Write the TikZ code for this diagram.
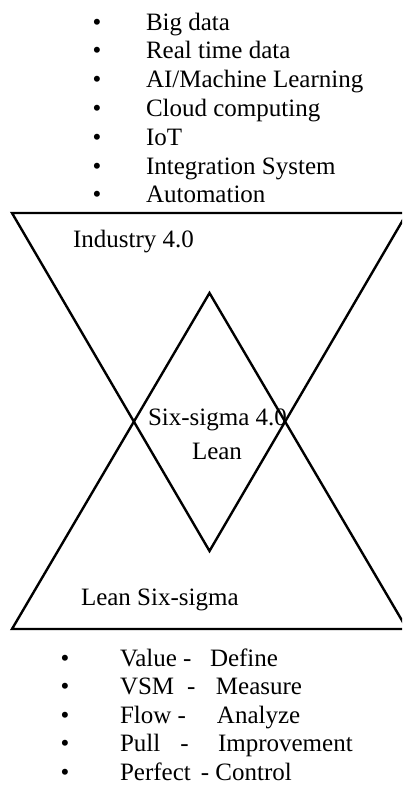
\documentclass[tikz,border=0pt]{standalone}
\usepackage{fontspec}
\setmainfont{Liberation Serif}
\begin{document}
\begin{tikzpicture}[x=1pt,y=-1pt,
  txt/.style={inner sep=0pt,outer sep=0pt,font=\fontsize{25pt}{29pt}\selectfont},
  bul/.style={txt,anchor=base},
  item/.style={txt,anchor=base west},
  tri/.style={draw=black,line width=2.4pt,line join=miter}]
\useasboundingbox (0,0) rectangle (402,785);
\clip (0,0) rectangle (402,785);
% top list
\foreach \t [count=\i] in {Big data,Real time data,AI/Machine Learning,Cloud computing,IoT,Integration System,Automation}{
  \node[bul] (tb\i) at (97,{30+28.8*(\i-1)}) {•};
  \node[item] (tt\i) at (146,{30+28.8*(\i-1)}) {\t};
}
% triangles
\coordinate (a1) at (12,213);
\coordinate (a2) at (407,213);
\coordinate (a3) at (209.5,551);
\coordinate (b1) at (12,629);
\coordinate (b2) at (407,629);
\coordinate (b3) at (209.5,293);
\draw[tri] (a1) -- (a2) -- (a3) -- cycle;
\draw[tri] (b1) -- (b2) -- (b3) -- cycle;
% labels
\node[item] (ind) at (73,247) {Industry 4.0};
\node[item] (six) at (148,425) {Six-sigma 4.0};
\node[item] (lean) at (192,459) {Lean};
\node[item] (lss) at (81,605) {Lean Six-sigma};
% bottom list
\node[bul] (bb1) at (65,666) {•};
\node[bul] (bb2) at (65,694.5) {•};
\node[bul] (bb3) at (65,723) {•};
\node[bul] (bb4) at (65,751.5) {•};
\node[bul] (bb5) at (65,780) {•};
\node[item] (bt1) at (120,666) {\rlap{Value -}\hspace{90pt}Define};
\node[item] (bt2) at (120,694.5) {\rlap{VSM\hspace{13pt}-}\hspace{96pt}Measure};
\node[item] (bt3) at (120,723) {\rlap{Flow -}\hspace{97pt}Analyze};
\node[item] (bt4) at (120,751.5) {\rlap{Pull\hspace{20pt}-}\hspace{98pt}Improvement};
\node[item] (bt5) at (120,780) {Perfect\hspace{10pt}- Control};
\end{tikzpicture}
\end{document}
